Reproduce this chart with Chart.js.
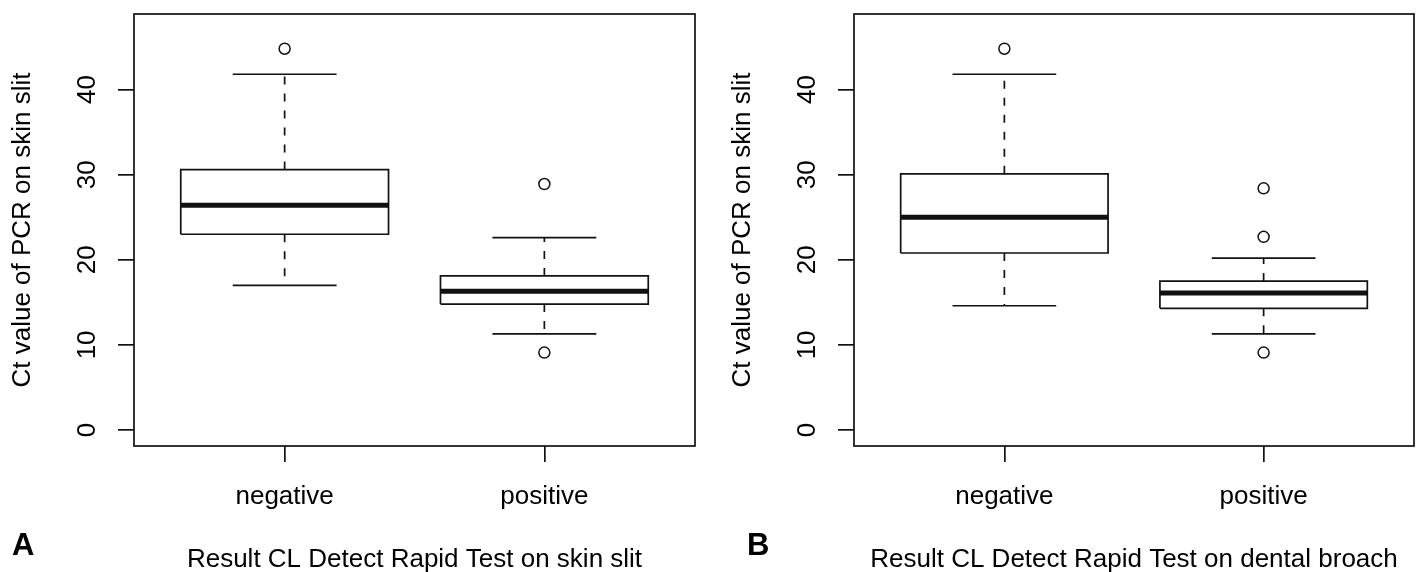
<!DOCTYPE html>
<html>
<head>
<meta charset="utf-8">
<title>Ct value by CL Detect result</title>
<script src="https://cdn.jsdelivr.net/npm/chart.js@4.4.1/dist/chart.umd.min.js"></script>
<style>
  html, body { margin: 0; padding: 0; background: #fff; }
  #wrap { position: relative; width: 1421px; height: 572px; overflow: hidden; }
  canvas { position: absolute; top: 0; }
  #chartA { left: 0; }
  #chartB { left: 720px; }
</style>
</head>
<body>
<div id="wrap">
  <canvas id="chartA" width="720" height="572"></canvas>
  <canvas id="chartB" width="701" height="572"></canvas>
</div>
<script>
// ── Data ─────────────────────────────────────────────────────
const categories = ['negative', 'positive'];
const yTicks = [0, 10, 20, 30, 40];
const yLimits = [0, 47];
const yTitle = 'Ct value of PCR on skin slit';

// Panel A – rapid test on skin slit
const skinWhiskerLow  = [17.0, 11.3];
const skinQ1          = [23.0, 14.8];
const skinMedian      = [26.4, 16.3];
const skinQ3          = [30.6, 18.1];
const skinWhiskerHigh = [41.8, 22.6];
const skinOutliers    = [[44.8], [28.9, 9.1]];

// Panel B – rapid test on dental broach
const broachWhiskerLow  = [14.6, 11.3];
const broachQ1          = [20.8, 14.3];
const broachMedian      = [25.0, 16.1];
const broachQ3          = [30.1, 17.5];
const broachWhiskerHigh = [41.8, 20.2];
const broachOutliers    = [[44.8], [28.4, 22.7, 9.1]];

// ── Styling ──────────────────────────────────────────────────
const INK = '#111';
const LW = 1.7;
const BOX_HALF = 0.4;
const CAP_HALF = 0.2;
const DASH = [8, 9];

Chart.defaults.font.family = "'Liberation Sans', Arial, sans-serif";
Chart.defaults.font.size = 26;
Chart.defaults.color = '#000';
Chart.defaults.animation = false;

// R-style axis extension (4 % each side)
const yPad = (yLimits[1] - yLimits[0]) * 0.04;
const xPad = categories.length * 0.04;

function seg(points, width, dash) {
  return {
    data: points,
    showLine: true,
    borderColor: INK,
    borderWidth: width,
    borderDash: dash || [],
    borderJoinStyle: 'miter',
    pointRadius: 0,
    pointHoverRadius: 0,
    fill: false
  };
}

function boxDatasets(lo, q1, med, q3, hi, out) {
  const sets = [];
  categories.forEach((_, i) => {
    const x = i + 1;
    sets.push(seg([{ x, y: q3[i] }, { x, y: hi[i] }], LW, DASH));
    sets.push(seg([{ x, y: q1[i] }, { x, y: lo[i] }], LW, DASH));
    sets.push(seg([{ x: x - CAP_HALF, y: hi[i] }, { x: x + CAP_HALF, y: hi[i] }], LW));
    sets.push(seg([{ x: x - CAP_HALF, y: lo[i] }, { x: x + CAP_HALF, y: lo[i] }], LW));
    sets.push(seg([
      { x: x - BOX_HALF, y: q1[i] }, { x: x + BOX_HALF, y: q1[i] },
      { x: x + BOX_HALF, y: q3[i] }, { x: x - BOX_HALF, y: q3[i] },
      { x: x - BOX_HALF, y: q1[i] }
    ], LW));
    sets.push(seg([{ x: x - BOX_HALF, y: med[i] }, { x: x + BOX_HALF, y: med[i] }], 5));
    sets.push({
      data: out[i].map(y => ({ x, y })),
      showLine: false,
      pointRadius: 5.5,
      pointHoverRadius: 5.5,
      pointBorderWidth: 1.5,
      pointBorderColor: INK,
      pointBackgroundColor: '#fff'
    });
  });
  return sets;
}

// frame round the plot region + panel letter
const framePlugin = {
  id: 'frame',
  afterDraw(chart, args, opts) {
    const { ctx, chartArea: a } = chart;
    ctx.save();
    ctx.strokeStyle = INK;
    ctx.lineWidth = LW;
    ctx.strokeRect(a.left, a.top, a.right - a.left, a.bottom - a.top);
    ctx.fillStyle = '#000';
    ctx.font = "bold 31px 'Liberation Sans', Arial, sans-serif";
    ctx.textBaseline = 'alphabetic';
    ctx.fillText(opts.letter, opts.letterX, 555);
    ctx.restore();
  }
};

const tickGrid = {
  drawOnChartArea: false,
  drawTicks: true,
  tickLength: 16,
  color: INK,
  lineWidth: LW
};

// fixed axis sizes so the plot region sits where R put it
function fixSize(prop, size) {
  return s => {
    s[prop] = size;
    s.paddingTop = 0;
    s.paddingBottom = 0;
    s.paddingLeft = 0;
    s.paddingRight = 0;
  };
}

function makeChart(id, xTitle, letter, letterX, datasets) {
  const canvas = document.getElementById(id);
  return new Chart(canvas, {
    type: 'scatter',
    data: { datasets },
    plugins: [framePlugin],
    options: {
      responsive: false,
      events: [],
      layout: { padding: { top: 14, right: canvas.width - 695, left: 0, bottom: 0 } },
      plugins: {
        legend: { display: false },
        tooltip: { enabled: false },
        frame: { letter, letterX }
      },
      scales: {
        x: {
          type: 'linear',
          min: 1 - 0.5 - xPad,
          max: categories.length + 0.5 + xPad,
          afterBuildTicks: s => { s.ticks = categories.map((_, i) => ({ value: i + 1 })); },
          afterFit: fixSize('height', 126),
          grid: tickGrid,
          border: { display: false },
          ticks: {
            autoSkip: false,
            maxRotation: 0,
            padding: 19,
            callback: v => categories[v - 1]
          },
          title: { display: true, text: xTitle, padding: { bottom: -1 }, font: { size: 26, lineHeight: 1 } }
        },
        y: {
          type: 'linear',
          min: yLimits[0] - yPad,
          max: yLimits[1] + yPad,
          afterBuildTicks: s => { s.ticks = yTicks.map(v => ({ value: v })); },
          afterFit: fixSize('width', 134),
          grid: tickGrid,
          border: { display: false },
          ticks: { minRotation: 90, maxRotation: 90, crossAlign: 'center', padding: 16 },
          title: { display: true, text: yTitle, padding: { top: 7 }, font: { size: 26 } }
        }
      }
    }
  });
}

makeChart('chartA', 'Result CL Detect Rapid Test on skin slit', 'A', 12,
  boxDatasets(skinWhiskerLow, skinQ1, skinMedian, skinQ3, skinWhiskerHigh, skinOutliers));
makeChart('chartB', 'Result CL Detect Rapid Test on dental broach', 'B', 27,
  boxDatasets(broachWhiskerLow, broachQ1, broachMedian, broachQ3, broachWhiskerHigh, broachOutliers));
</script>
</body>
</html>
